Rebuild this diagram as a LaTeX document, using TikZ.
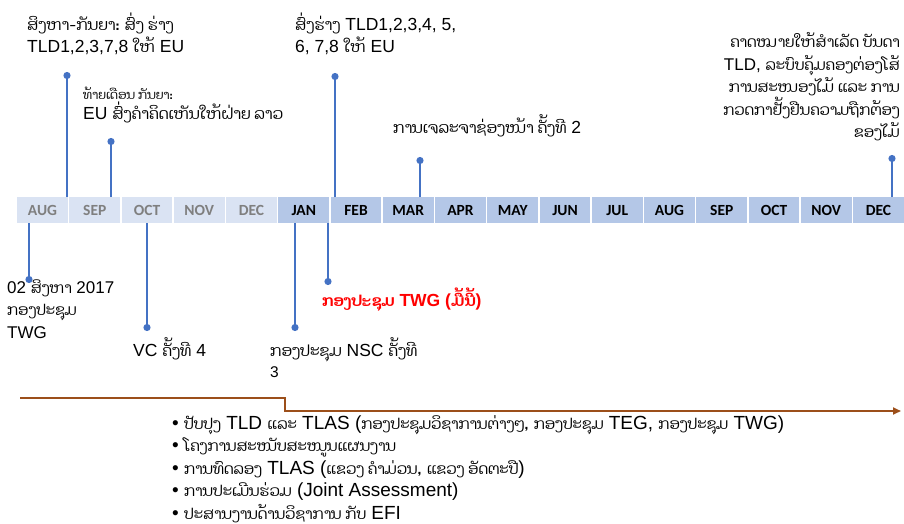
\documentclass[tikz,border=0pt]{standalone}
\usepackage{fontspec}
\usepackage{xcolor}
\usetikzlibrary{arrows.meta}
\setmainfont{Liberation Sans}
\newfontfamily\laofont[Script=Lao,Scale=0.88]{Dhyana}
\newfontfamily\laolist[Script=Lao,Scale=0.79]{Dhyana}
\newfontfamily\monthfont{Carlito}
\newcommand{\lo}[1]{{\laofont #1}}
\setlength{\lineskiplimit}{-100pt}
\definecolor{pinblue}{HTML}{4472C4}
\definecolor{pastfill}{HTML}{DAE3F3}
\definecolor{pasttext}{HTML}{7F7F7F}
\definecolor{futfill}{HTML}{B4C7E7}
\definecolor{trackbrown}{HTML}{9C4F1A}

\tikzset{
    month/.style={anchor=north west, minimum width=50.6pt, minimum height=26pt, inner sep=0pt,
        font=\monthfont\bfseries\fontsize{15.5}{17}\selectfont},
    past/.style={month, fill=pastfill, text=pasttext},
    future/.style={month, fill=futfill, text=black},
    pin/.style={draw=pinblue, line width=2pt, -{Circle[length=7pt]}},
    lbl/.style={anchor=base west, inner sep=0pt, align=left, font=\fontsize{17.5}{22}\selectfont},
}

\begin{document}
\begin{tikzpicture}[x=1pt, y=-1pt]
        \useasboundingbox (0,0) rectangle (904,524);
        \foreach \m [count=\i] in {AUG,SEP,OCT,NOV,DEC,JAN,FEB,MAR,APR,MAY,JUN,JUL,AUG,SEP,OCT,NOV,DEC} {
            \ifnum\i<6 \def\st{past}\else\def\st{future}\fi
            \node[\st] (m\i) at ({17+(\i-1)*52.25},197) {\m};
        }

        \coordinate (p1) at (67,72);
        \coordinate (p2) at (111,138);
        \coordinate (p3) at (335,73);
        \coordinate (p4) at (420,157);
        \coordinate (p5) at (892,155);
        \coordinate (q1) at (29,283);
        \coordinate (q2) at (147,331);
        \coordinate (q3) at (295,331);
        \coordinate (q4) at (328,285);
        \foreach \p in {p1,p2,p3,p4,p5}
            \draw[pin] (\p |- m1.north) -- (\p);
        \foreach \q in {q1,q2,q3,q4}
            \draw[pin] (\q |- m1.south) -- (\q);

        \node[lbl] (augsep) at (27,53) {\lo{ສິງຫາ-ກັນຍາ: ສົ່ງ ຮ່າງ}\\TLD1,2,3,7,8 \lo{ໃຫ້} EU};
        \node[lbl] (sepend) at (83,120) {{\fontsize{14}{16}\selectfont\lo{ທ້າຍເດືອນ ກັນຍາ:}}\\[-2pt]EU \lo{ສົ່ງຄຳຄິດເຫັນໃຫ້ຝ່າຍ ລາວ}};
        \node[lbl] (febsend) at (295,53) {\lo{ສົ່ງຮ່າງ} TLD1,2,3,4, 5,\\6, 7,8 \lo{ໃຫ້} EU};
        \node[lbl] (nego) at (393,133) {\lo{ການເຈລະຈາຊ່ອງໜ້າ ຄັ້ງທີ} 2};
        \node[lbl, anchor=base east, align=right, font=\fontsize{17}{22.5}\selectfont] (goal) at (900,138)
            {\lo{ຄາດໝາຍໃຫ້ສຳເລັດ ບັນດາ}\\TLD, \lo{ລະບົບຄຸ້ມຄອງຕ່ອງໂສ້}\\\lo{ການສະໜອງໄມ້ ແລະ ການ}\\\lo{ກວດກາຢັ້ງຢືນຄວາມຖືກຕ້ອງ}\\\lo{ຂອງໄມ້}};

        \node[lbl, font=\fontsize{17}{22.5}\selectfont] (twgaug) at (7,338) {02 \lo{ສິງຫາ} 2017\\\lo{ກອງປະຊຸມ}\\TWG};
        \node[lbl] (vc) at (133,356) {VC \lo{ຄັ້ງທີ} 4};
        \node[lbl, font=\fontsize{17.5}{21}\selectfont] (nsc) at (270,377) {\lo{ກອງປະຊຸມ} NSC \lo{ຄັ້ງທີ}\\{\fontsize{15.5}{21}\selectfont 3}};
        \node[lbl, text=red, font=\bfseries\fontsize{17.5}{22}\selectfont] (today) at (322,306) {\lo{ກອງປະຊຸມ} TWG (\lo{ມື້ນີ້})};

        \coordinate (s0) at (20,398);
        \coordinate (s1) at (285,398);
        \coordinate (s2) at (285,411);
        \coordinate (s3) at (901,411);
        \draw[trackbrown, line width=2pt, -{Triangle[length=8pt,width=7pt]}] (s0) -- (s1) -- (s2) -- (s3);

        \node[lbl, font=\fontsize{19}{22.5}\selectfont\let\laofont\laolist] (tasks) at (172,519)
            {\textbullet\ \lo{ປັບປຸງ} TLD \lo{ແລະ} TLAS (\lo{ກອງປະຊຸມວິຊາການຕ່າງໆ,} \lo{ກອງປະຊຸມ} TEG, \lo{ກອງປະຊຸມ} TWG)\\
             \textbullet\ \lo{ໂຄງການສະໜັບສະໜູນແຜນງານ}\\
             \textbullet\ \lo{ການທົດລອງ} TLAS (\lo{ແຂວງ ຄຳມ່ວນ,} \lo{ແຂວງ ອັດຕະປື})\\
             \textbullet\ \lo{ການປະເມີນຮ່ວມ} (Joint Assessment)\\
             \textbullet\ \lo{ປະສານງານດ້ານວິຊາການ ກັບ} EFI};
\end{tikzpicture}
\end{document}
